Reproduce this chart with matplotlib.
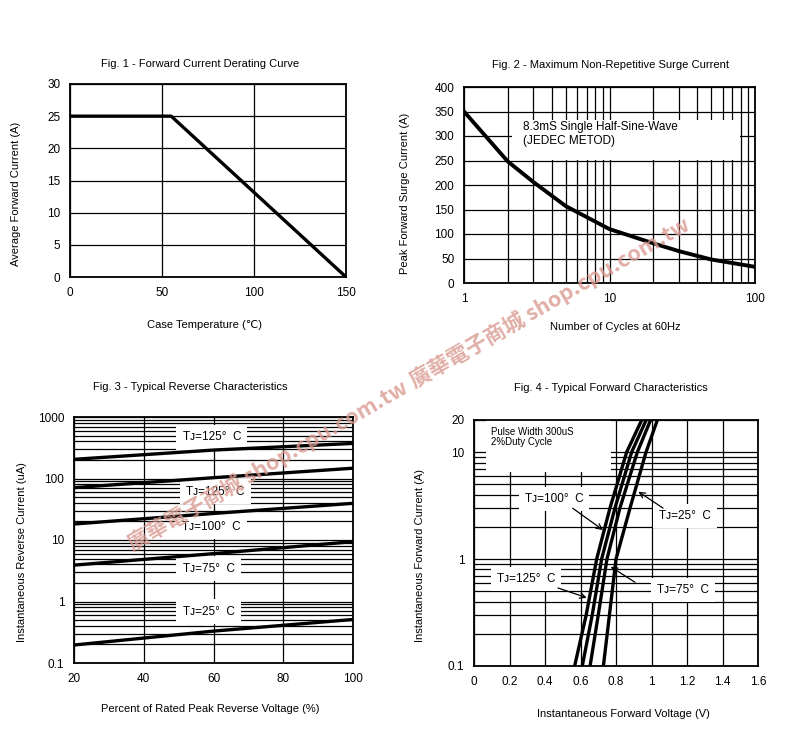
import matplotlib
matplotlib.use("Agg")
import matplotlib.pyplot as plt
from matplotlib.ticker import LogLocator, NullFormatter, FixedLocator
from matplotlib.patches import Rectangle

plt.rcParams['font.family'] = ['Liberation Sans', 'DejaVu Sans']

W, H = 800, 755

# Fig. 1 - derating curve
derate_temp = [0, 55, 150]
derate_current = [25, 25, 0]

# Fig. 2 - surge current
surge_cycles = [1, 2, 3, 5, 10, 20, 30, 50, 100]
surge_current = [350, 248, 206, 157, 110, 81, 65, 48, 33]

# Fig. 3 - reverse characteristics
rev_pct = [20, 60, 100]
rev_125a = [205, 290, 372]
rev_125b = [71, 103, 147]
rev_100 = [18.2, 27, 39.5]
rev_75 = [3.9, 6.0, 9.4]
rev_25 = [0.196, 0.33, 0.51]
rev_labels = ['T\u1d0a=125\u00b0  C', 'T\u1d0a=125\u00b0  C', 'T\u1d0a=100\u00b0  C',
              'T\u1d0a=75\u00b0  C', 'T\u1d0a=25\u00b0  C']

# Fig. 4 - forward characteristics
fwd_current = [0.1, 0.3, 1, 3, 10, 20]
fwd_v_125 = [0.567, 0.632, 0.691, 0.766, 0.86, 0.945]
fwd_v_100 = [0.61, 0.666, 0.719, 0.794, 0.888, 0.97]
fwd_v_75 = [0.654, 0.70, 0.749, 0.822, 0.92, 0.995]
fwd_v_25 = [0.729, 0.763, 0.80, 0.879, 0.969, 1.033]


def px(x, y):
    return x / W, 1 - y / H


def axes_px(left, top, right, bottom):
    return fig.add_axes([left / W, 1 - bottom / H, (right - left) / W, (bottom - top) / H])


def style(ax):
    ax.tick_params(which='both', length=0, labelsize=8.5, pad=7)
    for s in ax.spines.values():
        s.set_linewidth(1.3)
    ax.set_axisbelow(True)


fig = plt.figure(figsize=(W / 100, H / 100), dpi=100)
grid_kw = dict(color='black', linewidth=0.9)

# ---- Fig 1
ax1 = axes_px(70, 84, 346, 277)
ax1.plot(derate_temp, derate_current, color='black', lw=2.4, solid_capstyle='butt')
ax1.set_xlim(0, 150)
ax1.set_ylim(0, 30)
ax1.set_xticks([0, 50, 100, 150])
ax1.set_yticks(range(0, 31, 5))
ax1.grid(True, **grid_kw)
style(ax1)
fig.text(*px(200, 64), 'Fig. 1 - Forward Current Derating Curve', ha='center', va='center', fontsize=8)
fig.text(*px(205, 325), 'Case Temperature (\u2103)', ha='center', va='center', fontsize=8)
fig.text(*px(16, 194), 'Average Forward Current (A)', ha='center', va='center', rotation=90, fontsize=8)

# ---- Fig 2
ax2 = axes_px(464, 87, 755, 283)
ax2.plot(surge_cycles, surge_current, color='black', lw=2.8)
ax2.set_xscale('log')
ax2.set_xlim(1, 100)
ax2.set_ylim(0, 400)
ax2.set_yticks(range(0, 401, 50))
ax2.xaxis.set_major_locator(FixedLocator([1, 10, 100]))
ax2.set_xticklabels(['1', '10', '100'])
ax2.xaxis.set_minor_locator(LogLocator(base=10, subs=range(2, 10)))
ax2.xaxis.set_minor_formatter(NullFormatter())
ax2.grid(True, which='both', **grid_kw)
style(ax2)
ax2.add_patch(Rectangle(((512 - 464) / 291, (283 - 160) / 196), (740 - 512) / 291, 40 / 196,
                        transform=ax2.transAxes, facecolor='white', edgecolor='none', zorder=1.5))
ax2.text((523 - 464) / 291, (283 - 134) / 196, '8.3mS Single Half-Sine-Wave\n(JEDEC METOD)',
         transform=ax2.transAxes, ha='left', va='center', fontsize=8.5, linespacing=1.15, zorder=3)
fig.text(*px(611, 65), 'Fig. 2 - Maximum Non-Repetitive Surge Current', ha='center', va='center', fontsize=8)
fig.text(*px(615, 327), 'Number of Cycles at 60Hz', ha='center', va='center', fontsize=8)
fig.text(*px(405, 193), 'Peak Forward Surge Current (A)', ha='center', va='center', rotation=90, fontsize=8)

# ---- Fig 3
ax3 = axes_px(74, 417, 353, 663)
for curve in [rev_125a, rev_125b, rev_100, rev_75, rev_25]:
    ax3.plot(rev_pct, curve, color='black', lw=2.4, zorder=4)
ax3.set_yscale('log')
ax3.set_xlim(20, 100)
ax3.set_ylim(0.1, 1000)
ax3.set_xticks([20, 40, 60, 80, 100])
ax3.yaxis.set_major_locator(FixedLocator([0.1, 1, 10, 100, 1000]))
ax3.set_yticklabels(['0.1', '1', '10', '100', '1000'])
ax3.yaxis.set_minor_locator(LogLocator(base=10, subs=range(2, 10)))
ax3.yaxis.set_minor_formatter(NullFormatter())
ax3.grid(True, which='both', axis='y', **grid_kw)
ax3.grid(True, which='major', axis='x', **grid_kw)
style(ax3)
label_pos3 = [(59.5, 470), (60.5, 61), (59.3, 16.3), (58.6, 3.4), (58.6, 0.68)]
for text, (x, y) in zip(rev_labels, label_pos3):
    ax3.text(x, y, text, ha='center', va='center', fontsize=8.5, zorder=3,
             bbox=dict(boxstyle='square,pad=0.55', facecolor='white', edgecolor='none'))
fig.text(*px(190, 387), 'Fig. 3 - Typical Reverse Characteristics', ha='center', va='center', fontsize=8)
fig.text(*px(210, 709), 'Percent of Rated Peak Reverse Voltage (%)', ha='center', va='center', fontsize=8)
fig.text(*px(22, 552), 'Instantaneous Reverse Current (uA)', ha='center', va='center', rotation=90, fontsize=8)

# ---- Fig 4
ax4 = axes_px(474, 420, 758, 666)
for curve in [fwd_v_125, fwd_v_100, fwd_v_75, fwd_v_25]:
    ax4.plot(curve, fwd_current, color='black', lw=2.4, zorder=4)
ax4.set_yscale('log')
ax4.set_xlim(0, 1.6)
ax4.set_ylim(0.1, 20)
ax4.set_xticks([0, 0.2, 0.4, 0.6, 0.8, 1, 1.2, 1.4, 1.6])
ax4.set_xticklabels(['0', '0.2', '0.4', '0.6', '0.8', '1', '1.2', '1.4', '1.6'])
ax4.yaxis.set_major_locator(FixedLocator([0.1, 1, 10, 20]))
ax4.set_yticklabels(['0.1', '1', '10', '20'])
ax4.yaxis.set_minor_locator(LogLocator(base=10, subs=range(2, 10)))
ax4.yaxis.set_minor_formatter(NullFormatter())
ax4.grid(True, which='both', axis='y', **grid_kw)
ax4.grid(True, which='major', axis='x', **grid_kw)
style(ax4)
ax4.add_patch(Rectangle(((486 - 474) / 284, (666 - 472) / 246), (611 - 486) / 284, 52 / 246,
                        transform=ax4.transAxes, facecolor='white', edgecolor='none', zorder=1.5))
ax4.text((491 - 474) / 284, (666 - 437) / 246, 'Pulse Width 300uS\n2%Duty Cycle',
         transform=ax4.transAxes, ha='left', va='center', fontsize=7, linespacing=1.1, zorder=3)
fwd_labels = [('T\u1d0a=100\u00b0  C', (0.287, 3.65), (0.556, 2.99), (0.727, 1.87)),
              ('T\u1d0a=25\u00b0  C', (1.042, 2.53), (1.065, 3.0), (0.926, 4.27)),
              ('T\u1d0a=125\u00b0  C', (0.13, 0.652), (0.473, 0.537), (0.635, 0.435)),
              ('T\u1d0a=75\u00b0  C', (1.031, 0.514), (0.907, 0.607), (0.77, 0.849))]
for text, tpos, tail, tip in fwd_labels:
    ax4.text(tpos[0], tpos[1], text, ha='left', va='center', fontsize=8.5, zorder=3,
             bbox=dict(boxstyle='square,pad=0.5', facecolor='white', edgecolor='none'))
    ax4.annotate('', xy=tip, xytext=tail, zorder=5,
                 arrowprops=dict(arrowstyle='->', color='black', lw=0.9, shrinkA=0, shrinkB=0))
fig.text(*px(611, 388), 'Fig. 4 - Typical Forward Characteristics', ha='center', va='center', fontsize=8)
fig.text(*px(623, 714), 'Instantaneous Forward Voltage (V)', ha='center', va='center', fontsize=8)
fig.text(*px(420, 556), 'Instantaneous Forward Current (A)', ha='center', va='center', rotation=90, fontsize=8)

# watermark
for cx, cy in [(268, 465), (550, 302)]:
    fig.text(*px(cx, cy), '\u5ee3\u83ef\u96fb\u5b50\u5546\u57ce shop.cpu.com.tw', rotation=30,
             ha='center', va='center', fontsize=15.5, fontweight='bold', color='#d99a90', alpha=0.8,
             family=['Noto Sans CJK TC', 'DejaVu Sans'], zorder=10)

fig.savefig('out.png', dpi=100)
